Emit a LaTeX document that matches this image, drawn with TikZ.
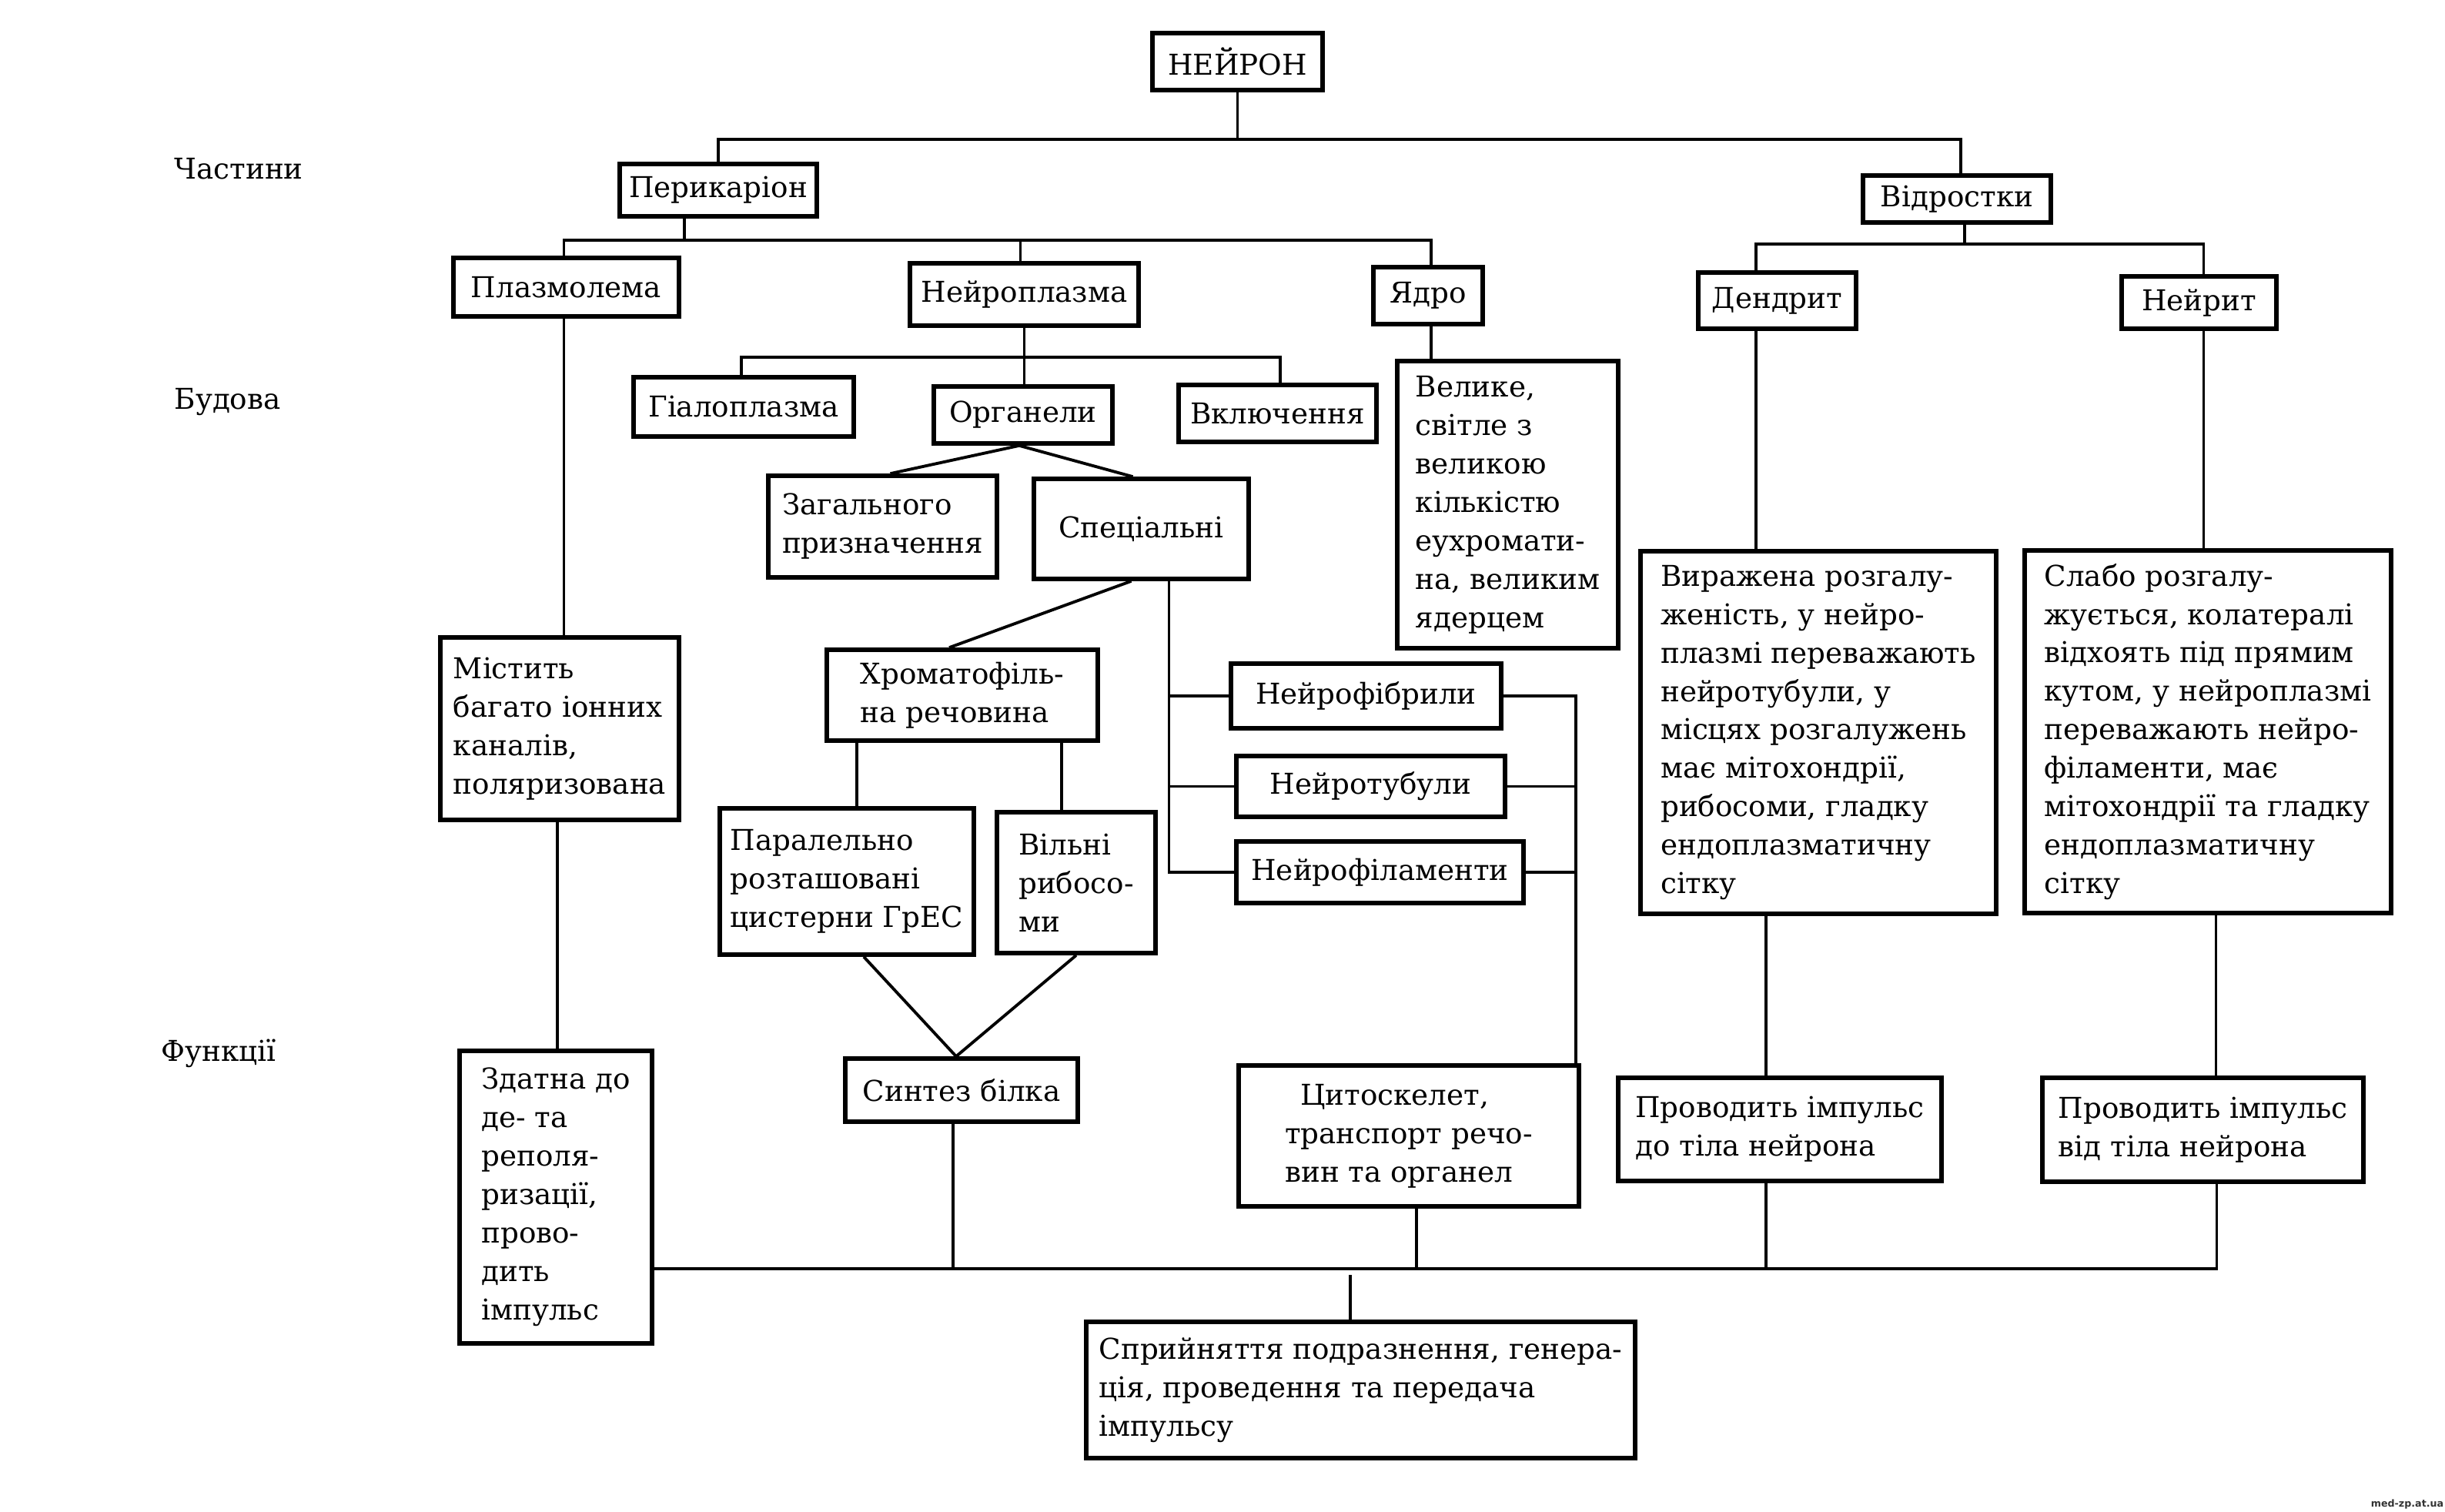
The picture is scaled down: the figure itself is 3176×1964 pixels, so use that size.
\documentclass[tikz,border=0pt]{standalone}
\usepackage{fontspec}
\setmainfont{DejaVu Serif}
\newfontfamily\wmfont{DejaVu Sans}
\tikzset{
  bxs/.style={draw=black, line width=1.6pt, fill=white, align=left, inner sep=0pt,
    font=\fontsize{10.6pt}{14.2pt}\selectfont},
  lbl/.style={inner sep=0pt, anchor=west, font=\fontsize{10.6pt}{14.2pt}\selectfont},
  conn/.style={draw=black, line width=1.1pt}
}
\newcommand\nbox[6]{%
  \pgfmathsetmacro\bxw{(#4-#2)*0.01}%
  \pgfmathsetmacro\bxh{(#5-#3)*0.01}%
  \node[bxs, minimum width=\bxw cm, minimum height=\bxh cm] (#1) at ({(#2+#4)/2},{(#3+#5)/2}) {#6};}
\begin{document}
\begin{tikzpicture}[x=0.01cm, y=-0.01cm]
\path[fill=white, use as bounding box] (0,0) rectangle (3176,1964);

% bus levels
\coordinate (b0) at (0,181);
\coordinate (b1) at (0,312);
\coordinate (b2) at (0,317);
\coordinate (b3) at (0,464);
\coordinate (busy) at (0,1648);

% labels
\node[lbl] (lchast) at (226,219) {Частини};
\node[lbl] (lbud) at (226,522) {Будова};
\node[lbl] (lfunk) at (209,1368) {Функції};

% boxes
\nbox{neuron}{1497}{43}{1718}{117}{НЕЙРОН}
\nbox{peri}{805}{213}{1061}{281}{Перикаріон}
\nbox{vidr}{2420}{228}{2664}{289}{Відростки}
\nbox{plasm}{589}{335}{882}{411}{Плазмолема}
\nbox{neuropl}{1182}{342}{1479}{423}{Нейроплазма}
\nbox{yadro}{1784}{347}{1926}{421}{Ядро}
\nbox{dendr}{2206}{354}{2411}{427}{Дендрит}
\nbox{neurit}{2756}{359}{2957}{427}{Нейрит}
\nbox{gialo}{823}{490}{1109}{567}{Гіалоплазма}
\nbox{organ}{1213}{502}{1445}{576}{Органели}
\nbox{vkl}{1531}{500}{1788}{574}{Включення}
\nbox{velyke}{1815}{469}{2102}{842}{Велике,\\світле з\\великою\\кількістю\\еухромати-\\на, великим\\ядерцем}
\nbox{zagal}{998}{618}{1295}{750}{Загального\\призначення}
\nbox{spec}{1343}{622}{1622}{752}{Спеціальні}
\nbox{khrom}{1074}{844}{1426}{962}{Хроматофіль-\\на речовина}
\nbox{nfibr}{1599}{862}{1950}{946}{Нейрофібрили}
\nbox{ntub}{1606}{982}{1955}{1061}{Нейротубули}
\nbox{nfil}{1606}{1093}{1979}{1173}{Нейрофіламенти}
\nbox{mistyt}{572}{828}{882}{1065}{Містить\\багато іонних\\каналів,\\поляризована}
\nbox{parall}{935}{1050}{1265}{1240}{Паралельно\\розташовані\\цистерни ГрЕС}
\nbox{vilni}{1295}{1055}{1501}{1238}{Вільні\\рибосо-\\ми}
\nbox{vyrazh}{2131}{716}{2593}{1187}{Виражена розгалу-\\женість, у нейро-\\плазмі переважають\\нейротубули, у\\місцях розгалужень\\має мітохондрії,\\рибосоми, гладку\\ендоплазматичну\\сітку}
\nbox{slabo}{2630}{715}{3106}{1186}{Слабо розгалу-\\жується, колатералі\\відхоять під прямим\\кутом, у нейроплазмі\\переважають нейро-\\філаменти, має\\мітохондрії та гладку\\ендоплазматичну\\сітку}
\nbox{zdatna}{597}{1365}{847}{1745}{Здатна до\\де- та\\реполя-\\ризації,\\прово-\\дить\\імпульс}
\nbox{syntez}{1098}{1375}{1400}{1457}{Синтез білка}
\nbox{tsyto}{1609}{1384}{2051}{1567}{\hspace*{0.2cm}Цитоскелет,\\транспорт речо-\\вин та органел}
\nbox{prov1}{2102}{1400}{2522}{1534}{Проводить імпульс\\до тіла нейрона}
\nbox{prov2}{2653}{1400}{3070}{1535}{Проводить імпульс\\від тіла нейрона}
\nbox{spryin}{1411}{1717}{2124}{1894}{Сприйняття подразнення, генера-\\ція, проведення та передача\\імпульсу}

\node[inner sep=0pt, font=\wmfont\bfseries\fontsize{3.6pt}{4pt}\selectfont, text=black!80] (wm) at (3127,1954) {med-zp.at.ua};

% top level
\draw[conn] (neuron.south) -- (neuron.south |- b0);
\draw[conn] (peri.north) -- (peri.north |- b0) -| ([xshift=0.05cm]vidr.north);

% perikaryon bus
\draw[conn] ([xshift=-0.44cm]peri.south) -- ([xshift=-0.44cm]peri.south |- b1);
\draw[conn] ([xshift=-0.03cm]plasm.north) -- ([xshift=-0.03cm]plasm.north |- b1) -| ([xshift=0.04cm]yadro.north);
\draw[conn] ([xshift=-0.05cm]neuropl.north) -- ([xshift=-0.05cm]neuropl.north |- b1);

% vidrostky bus
\draw[conn] ([xshift=0.1cm]vidr.south) -- ([xshift=0.1cm]vidr.south |- b2);
\draw[conn] ([xshift=-0.275cm]dendr.north) -- ([xshift=-0.275cm]dendr.north |- b2) -| ([xshift=0.06cm]neurit.north);

% neuroplasm
\draw[conn] (neuropl.south) -- (neuropl.south |- organ.north);
\draw[conn] ([xshift=-0.03cm]gialo.north) -- ([xshift=-0.03cm]gialo.north |- b3) -| ([xshift=0.035cm]vkl.north);

% nucleus
\draw[conn] ([xshift=0.04cm]yadro.south) -- ([xshift=0.04cm]yadro.south |- velyke.north);

% plasmolemma chain
\draw[conn] ([xshift=-0.03cm]plasm.south) -- ([xshift=-0.03cm]plasm.south |- mistyt.north);
\draw[conn] ([xshift=-0.03cm]mistyt.south) -- ([xshift=-0.03cm]mistyt.south |- zdatna.north);

% organelles
\draw[conn] ([xshift=0.1cm]zagal.north) -- ([xshift=-0.05cm]organ.south) -- ([xshift=-0.11cm]spec.north);

% special organelles
\draw[conn] ([xshift=-0.13cm]spec.south) -- ([xshift=-0.17cm]khrom.north);
\coordinate (sp) at ([xshift=0.36cm]spec.south);
\draw[conn] (sp) |- (nfil.west);
\draw[conn] (nfibr.west) -- (nfibr.west -| sp);
\draw[conn] (ntub.west) -- (ntub.west -| sp);
\coordinate (rs) at ([xshift=-0.065cm]tsyto.north east);
\draw[conn] (nfibr.east) -| (rs);
\draw[conn] (ntub.east) -- (ntub.east -| rs);
\draw[conn] (nfil.east) -- (nfil.east -| rs);

% chromatophilic substance
\draw[conn] ([xshift=0.13cm]parall.north) -- ([xshift=0.13cm]parall.north |- khrom.south);
\draw[conn] ([xshift=-0.19cm]vilni.north) -- ([xshift=-0.19cm]vilni.north |- khrom.south);
\draw[conn] ([xshift=0.22cm]parall.south) -- ([xshift=-0.07cm]syntez.north) -- (vilni.south);

% processes
\draw[conn] ([xshift=-0.275cm]dendr.south) -- ([xshift=-0.275cm]dendr.south |- vyrazh.north);
\draw[conn] ([xshift=0.06cm]neurit.south) -- ([xshift=0.06cm]neurit.south |- slabo.north);
\draw[conn] ([xshift=-0.18cm]prov1.north) -- ([xshift=-0.18cm]prov1.north |- vyrazh.south);
\draw[conn] ([xshift=0.17cm]prov2.north) -- ([xshift=0.17cm]prov2.north |- slabo.south);

% bottom bus
\draw[conn] (zdatna.east |- busy) -- ([xshift=0.18cm]prov2.south |- busy) -- ([xshift=0.18cm]prov2.south);
\draw[conn] ([xshift=-0.11cm]syntez.south) -- ([xshift=-0.11cm]syntez.south |- busy);
\draw[conn] ([xshift=0.1cm]tsyto.south) -- ([xshift=0.1cm]tsyto.south |- busy);
\draw[conn] ([xshift=-0.18cm]prov1.south) -- ([xshift=-0.18cm]prov1.south |- busy);
\draw[conn] ([xshift=-0.135cm]spryin.north) -- ++(0,-58);
\end{tikzpicture}
\end{document}
